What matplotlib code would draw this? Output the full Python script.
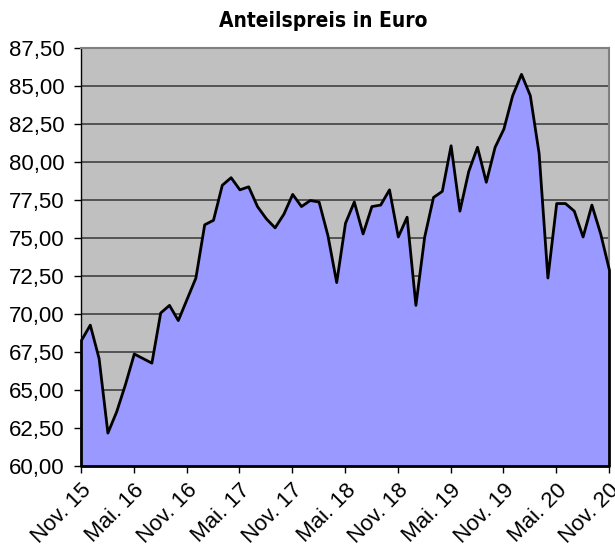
import matplotlib
matplotlib.use("Agg")
import matplotlib.pyplot as plt
from matplotlib.ticker import FuncFormatter

# monthly share price, Nov 2015 .. Nov 2020
preis = [68.3, 69.3, 67.1, 62.2, 63.6, 65.4, 67.4, 67.1, 66.8, 70.1,
         70.6, 69.6, 71.0, 72.4, 75.9, 76.2, 78.5, 79.0, 78.2, 78.4,
         77.1, 76.3, 75.7, 76.6, 77.9, 77.1, 77.5, 77.4, 75.2, 72.1,
         76.0, 77.4, 75.3, 77.1, 77.2, 78.2, 75.1, 76.4, 70.6, 75.1,
         77.7, 78.1, 81.1, 76.8, 79.4, 81.0, 78.7, 81.0, 82.2, 84.4,
         85.8, 84.4, 80.6, 72.4, 77.3, 77.3, 76.8, 75.1, 77.2, 75.3,
         72.9]
monate = list(range(len(preis)))
tick_pos = list(range(0, 61, 6))
tick_labels = ["Nov. 15", "Mai. 16", "Nov. 16", "Mai. 17", "Nov. 17", "Mai. 18",
               "Nov. 18", "Mai. 19", "Nov. 19", "Mai. 20", "Nov. 20"]
y_ticks = [60 + 2.5 * k for k in range(12)]

plt.rcParams['font.family'] = ['Liberation Sans', 'DejaVu Sans']

fig = plt.figure(figsize=(6.15, 5.48), dpi=100)
ax = fig.add_axes([81 / 615, 1 - 466 / 548, 528 / 615, 418 / 548])
ax.set_facecolor('#C0C0C0')

ax.fill_between(monate, preis, 60, facecolor='#9999FF', edgecolor='black',
                linewidth=2, zorder=3, clip_on=False)

ax.set_xlim(0, 60)
ax.set_ylim(60, 87.5)
ax.set_yticks(y_ticks)
ax.yaxis.set_major_formatter(FuncFormatter(lambda v, p: "{:.2f}".format(v).replace(".", ",")))
ax.set_xticks(tick_pos)
ax.set_xticklabels(tick_labels, rotation=45, ha='right', rotation_mode='anchor')
ax.tick_params(axis='both', labelsize=16, length=5, width=1, color='black')
ax.tick_params(axis='x', pad=5)
ax.tick_params(axis='y', pad=7)

ax.grid(axis='y', color='#404040', linewidth=1.2, zorder=1)
ax.set_axisbelow(True)

for s in ['top', 'right']:
    ax.spines[s].set_color('#808080')
    ax.spines[s].set_linewidth(1.5)
for s in ['left', 'bottom']:
    ax.spines[s].set_color('black')
    ax.spines[s].set_linewidth(1)

fig.text(0.525, 0.962, "Anteilspreis in Euro", ha='center', va='center',
         fontsize=15, fontweight='bold', fontstretch='condensed',
         family=['DejaVu Sans'])

fig.savefig("out.png", dpi=100)
